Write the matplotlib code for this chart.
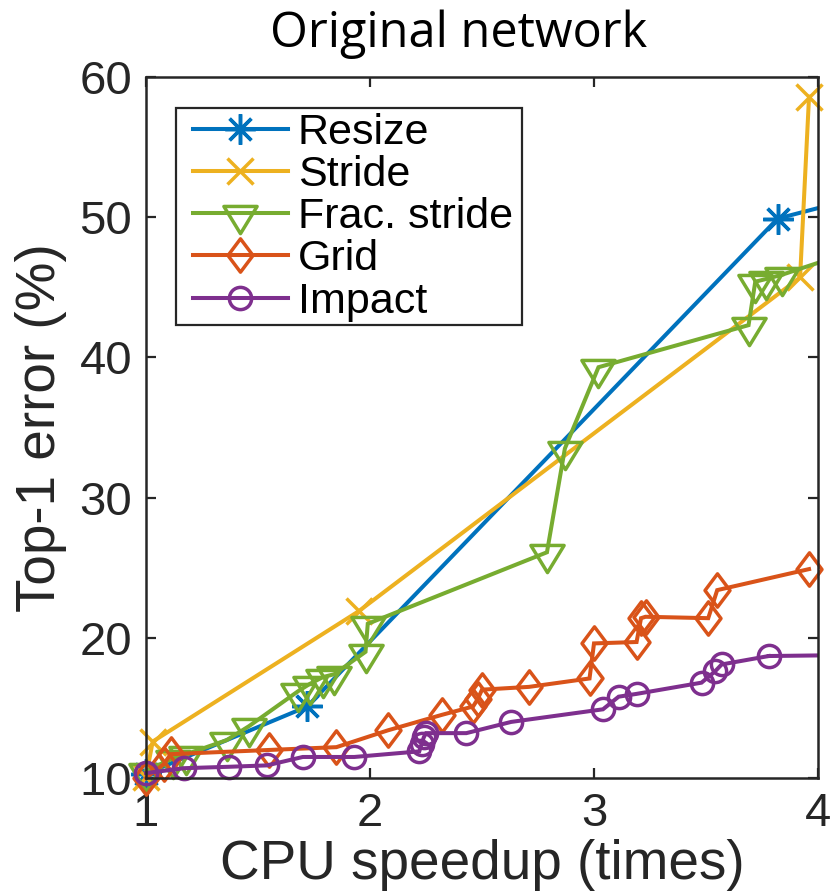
import matplotlib
matplotlib.use("Agg")
import matplotlib.pyplot as plt
from matplotlib.path import Path
from matplotlib.patches import Rectangle
import numpy as np

# ---- data -------------------------------------------------------------
resize_x = [1.0, 1.72, 3.82, 4.30]
resize_y = [10.3, 15.1, 49.9, 51.9]

stride_x = [1.0, 1.03, 1.95, 3.92, 3.96]
stride_y = [10.1, 12.6, 21.9, 45.7, 58.6]

frac_x = [1.0, 1.12, 1.18, 1.36, 1.46, 1.68, 1.73, 1.79, 1.84, 1.98, 1.99,
          2.79, 2.87, 3.02, 3.69, 3.72, 3.77, 3.84, 4.20]
frac_y = [10.5, 11.4, 11.7, 12.7, 13.7, 16.2, 16.7, 17.2, 17.4, 19.0, 21.0,
          26.1, 33.5, 39.3, 42.3, 45.4, 45.6, 45.9, 47.8]

grid_x = [1.0, 1.08, 1.11, 1.55, 1.85, 2.08, 2.32, 2.46, 2.48, 2.50, 2.71,
          2.98, 3.00, 3.19, 3.21, 3.23, 3.51, 3.55, 3.96]
grid_y = [10.0, 11.0, 11.7, 12.0, 12.2, 13.4, 14.5, 15.1, 15.6, 16.3, 16.5,
          17.1, 19.6, 19.7, 21.4, 21.5, 21.4, 23.4, 24.9]

impact_x = [1.0, 1.17, 1.37, 1.54, 1.70, 1.93, 2.22, 2.23, 2.24, 2.25, 2.43,
            2.63, 3.04, 3.11, 3.19, 3.48, 3.54, 3.57, 3.78, 4.30]
impact_y = [10.35, 10.7, 10.8, 10.9, 11.5, 11.5, 11.9, 12.4, 12.9, 13.2, 13.2,
            14.0, 14.9, 15.8, 16.0, 16.8, 17.6, 18.1, 18.7, 18.8]

labels = ["Resize", "Stride", "Frac. stride", "Grid", "Impact"]
x_ticks = [1, 2, 3, 4]
y_ticks = [10, 20, 30, 40, 50, 60]
x_lim = (1, 4)
y_lim = (10, 60)

# ---- marker shapes ----------------------------------------------------
tri_down = Path([(-16.5, 7), (16.5, 7), (0, -20), (-16.5, 7)],
                [Path.MOVETO, Path.LINETO, Path.LINETO, Path.CLOSEPOLY])
diamond = Path([(0, 16), (12, 0), (0, -16), (-12, 0), (0, 16)],
               [Path.MOVETO, Path.LINETO, Path.LINETO, Path.LINETO, Path.CLOSEPOLY])

series = [
    (resize_x, resize_y, "#0072BD", (8, 2, 0), 22),
    (stride_x, stride_y, "#EDB120", "x", 19),
    (frac_x, frac_y, "#77AC30", tri_down, 29),
    (grid_x, grid_y, "#D95319", diamond, 24),
    (impact_x, impact_y, "#7E2F8E", "o", 16),
]

plt.rcParams["font.family"] = ["Liberation Sans", "DejaVu Sans"]
axis_color = "#262626"

W, H = 830, 896
fig = plt.figure(figsize=(W / 100, H / 100), dpi=100)
ax_l, ax_r, ax_t, ax_b = 146, 818, 77, 778
ax = fig.add_axes([ax_l / W, 1 - ax_b / H, (ax_r - ax_l) / W, (ax_b - ax_t) / H])


def to_axes(px, py):
    """Pixel position in the figure -> axes fraction."""
    return (px - ax_l) / (ax_r - ax_l), (ax_b - py) / (ax_b - ax_t)


lw = 2.9
mew = 2.5
handles = []
for (xs, ys, col, mk, ms), lab in zip(series, labels):
    xs = np.asarray(xs)
    ys = np.asarray(ys)
    inside = xs <= x_lim[1]
    # points inside the x range: markers may overhang the frame
    h, = ax.plot(xs[inside], ys[inside], color=col, lw=lw, marker=mk, ms=ms,
                 mew=mew, mfc="none", mec=col, clip_on=False, label=lab,
                 solid_joinstyle="miter", zorder=3)
    handles.append(h)
    # tail segment running past the right edge is clipped by the frame
    if not inside.all():
        k = np.argmax(~inside)
        ax.plot(xs[k - 1:], ys[k - 1:], color=col, lw=lw, clip_on=True, zorder=3)

ax.set_xlim(*x_lim)
ax.set_ylim(*y_lim)
ax.set_xticks(x_ticks)
ax.set_yticks(y_ticks)
ax.tick_params(direction="in", length=7, width=1.6, top=True, right=True,
               labelsize=34, colors=axis_color, pad=10)
for sp in ax.spines.values():
    sp.set_linewidth(1.8)
    sp.set_color(axis_color)
    sp.set_zorder(4)

ax.set_xlabel("CPU speedup (times)", fontsize=39.5, color=axis_color, labelpad=2)
ax.set_ylabel("Top-1 error (%)", fontsize=39.5, color=axis_color)
ax.yaxis.set_label_coords(to_axes(67, 0)[0], 0.5)

fig.text(459 / W, 1 - 47 / H, "Original network", ha="center",
         va="baseline", fontsize=35, family=["Open Sans", "DejaVu Sans"],
         color="black")

# legend box
bx0, by0 = to_axes(176, 325)
bx1, by1 = to_axes(522, 108)
ax.add_patch(Rectangle((bx0, by0), bx1 - bx0, by1 - by0, transform=ax.transAxes,
                       facecolor="white", edgecolor=axis_color, lw=1.6,
                       zorder=4.5, clip_on=False))
leg = ax.legend(handles=handles, loc="upper left",
                bbox_to_anchor=to_axes(193, 113),
                borderaxespad=0, fontsize=31, frameon=False, numpoints=1,
                handlelength=2.2, handletextpad=0.23, labelspacing=0.05,
                borderpad=0)
leg.set_zorder(5)

fig.savefig("out.png", dpi=100)
